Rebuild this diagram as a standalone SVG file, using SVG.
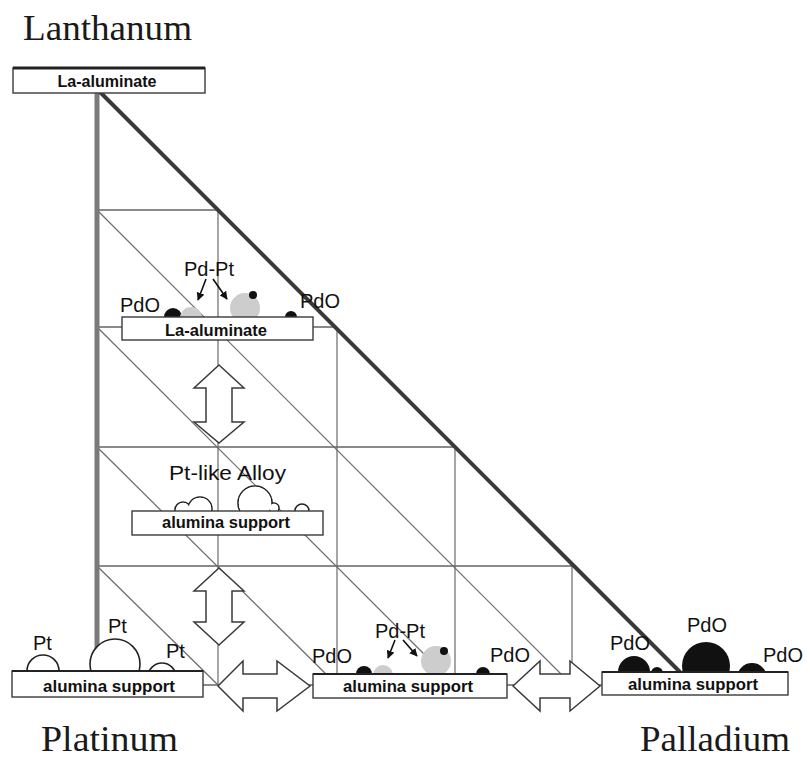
<svg xmlns="http://www.w3.org/2000/svg" width="807" height="760" viewBox="0 0 807 760">
  <defs>
    <style>
      .grid { stroke: #6a6a6a; stroke-width: 1.2; fill: none; }
      .hgrid { stroke: #8a8a8a; stroke-width: 2; fill: none; }
      .edge { stroke: #7a7a7a; stroke-width: 5; fill: none; }
      .hyp { stroke: #3a3a3a; stroke-width: 4; fill: none; }
      .box { fill: #fff; stroke: #3a3a3a; stroke-width: 1.4; }
      .boxlabel { font-family: "Liberation Sans", Arial, sans-serif; font-weight: bold; font-size: 16px; fill: #111; text-anchor: middle; }
      .lbl { font-family: "Liberation Sans", Arial, sans-serif; font-size: 20px; fill: #111; }
      .corner { font-family: "Liberation Serif", "Times New Roman", serif; font-size: 35px; fill: #1a1a1a; }
      .pt { fill: #fff; stroke: #222; stroke-width: 1.6; }
      .pdo { fill: #111; }
      .alloy { fill: #cdcdcd; }
      .block { fill: #fff; stroke: #3a3a3a; stroke-width: 1.5; stroke-linejoin: miter; }
      .ptr { stroke: #111; stroke-width: 1.6; fill: none; marker-end: url(#head); }
    </style>
    <marker id="head" viewBox="0 0 10 10" refX="9" refY="5" markerWidth="5" markerHeight="5" orient="auto">
      <path d="M0,0 L10,5 L0,10 z" fill="#111"/>
    </marker>
  </defs>

  <rect width="807" height="760" fill="#fff"/>

  <!-- ternary grid -->
  <g id="grid">
    <line class="hgrid" x1="97" y1="210" x2="218" y2="210"/>
    <line class="hgrid" x1="97" y1="327" x2="337" y2="327"/>
    <line class="hgrid" x1="97" y1="447" x2="455" y2="447"/>
    <line class="hgrid" x1="97" y1="566" x2="572" y2="566"/>
    <line class="hgrid" x1="97" y1="685" x2="690" y2="685"/>
    <line class="grid" x1="218" y1="210" x2="218" y2="685"/>
    <line class="grid" x1="337" y1="327" x2="337" y2="685"/>
    <line class="grid" x1="455" y1="447" x2="455" y2="685"/>
    <line class="grid" x1="572" y1="566" x2="572" y2="685"/>
    <line class="grid" x1="97" y1="210" x2="572" y2="685"/>
    <line class="grid" x1="97" y1="327" x2="455" y2="685"/>
    <line class="grid" x1="97" y1="447" x2="337" y2="685"/>
    <line class="grid" x1="97" y1="566" x2="218" y2="685"/>
    <line class="edge" x1="97" y1="90" x2="97" y2="685"/>
    <line class="hyp" x1="98" y1="90" x2="680" y2="672"/>
  </g>

  <!-- block arrows between states -->
  <g id="connectors">
    <polygon class="block" points="219,365 244,388 232,388 232,422 244,422 219,443 194,422 206,422 206,388 194,388"/>
    <polygon class="block" points="219,568 244,591 232,591 232,622 244,622 219,645 194,622 206,622 206,591 194,591"/>
    <polygon class="block" points="218,686 243,661 243,674 277,674 277,661 310,686 277,711 277,698 243,698 243,711"/>
    <polygon class="block" points="513,686 540,661 540,674 570,674 570,661 600,686 570,711 570,698 540,698 540,711"/>
  </g>

  <!-- Lanthanum corner -->
  <g id="node-la-corner">
    <rect class="box" x="13" y="68" width="192" height="25"/>
    <line x1="13" y1="68" x2="205" y2="68" stroke="#222" stroke-width="3"/>
    <text class="boxlabel" x="107" y="87" textLength="99" lengthAdjust="spacingAndGlyphs">La-aluminate</text>
  </g>

  <!-- Pd-Pt on La-aluminate -->
  <g id="node-la-pdpt">
    <circle class="pdo" cx="173" cy="317" r="9"/>
    <circle class="alloy" cx="191" cy="318" r="11"/>
    <circle class="alloy" cx="245" cy="308" r="15"/>
    <circle class="pdo" cx="253" cy="295" r="4"/>
    <circle class="pdo" cx="291" cy="317" r="6"/>
    <rect class="box" x="122" y="317" width="191" height="23"/>
    <text class="boxlabel" x="216" y="336" textLength="102" lengthAdjust="spacingAndGlyphs">La-aluminate</text>
    <text class="lbl" x="184" y="276">Pd-Pt</text>
    <line class="ptr" x1="206" y1="279" x2="198" y2="300"/>
    <line class="ptr" x1="213" y1="279" x2="227" y2="299"/>
    <text class="lbl" x="120" y="312">PdO</text>
    <text class="lbl" x="300" y="308">PdO</text>
  </g>

  <!-- Pt-like alloy on alumina -->
  <g id="node-alloy">
    <text class="lbl" x="169" y="480" textLength="117" lengthAdjust="spacingAndGlyphs">Pt-like Alloy</text>
    <g class="pt">
      <circle cx="183" cy="510" r="8"/>
      <circle cx="200" cy="509" r="12"/>
      <circle cx="255" cy="503" r="17"/>
      <circle cx="274" cy="508" r="5"/>
      <circle cx="302" cy="511" r="7"/>
    </g>
    <g fill="#fff">
      <circle cx="183" cy="510" r="7.2"/>
      <circle cx="200" cy="509" r="11.2"/>
      <circle cx="255" cy="503" r="16.2"/>
      <circle cx="274" cy="508" r="4.2"/>
    </g>
    <rect class="box" x="132" y="511" width="191" height="24"/>
    <text class="boxlabel" x="226" y="528" textLength="128" lengthAdjust="spacingAndGlyphs">alumina support</text>
  </g>

  <!-- Platinum corner -->
  <g id="node-platinum">
    <g class="pt">
      <circle cx="43" cy="671" r="16"/>
      <circle cx="115" cy="664" r="25"/>
      <circle cx="162" cy="677" r="14"/>
    </g>
    <rect class="box" x="12" y="671" width="191" height="26"/>
    <line x1="12" y1="671" x2="203" y2="671" stroke="#222" stroke-width="2"/>
    <text class="boxlabel" x="109" y="692" textLength="132" lengthAdjust="spacingAndGlyphs">alumina support</text>
    <text class="lbl" x="33" y="650">Pt</text>
    <text class="lbl" x="108" y="633">Pt</text>
    <text class="lbl" x="166" y="658">Pt</text>
  </g>

  <!-- Pd-Pt on alumina -->
  <g id="node-pdpt">
    <circle class="pdo" cx="364" cy="674" r="8"/>
    <circle class="alloy" cx="383" cy="675" r="10"/>
    <circle class="alloy" cx="436" cy="661" r="15"/>
    <circle class="pdo" cx="444" cy="651" r="4"/>
    <circle class="pdo" cx="483" cy="674" r="7"/>
    <rect class="box" x="313" y="674" width="194" height="24"/>
    <line x1="313" y1="674" x2="507" y2="674" stroke="#222" stroke-width="2"/>
    <text class="boxlabel" x="408" y="692" textLength="130" lengthAdjust="spacingAndGlyphs">alumina support</text>
    <text class="lbl" x="375" y="638">Pd-Pt</text>
    <line class="ptr" x1="395" y1="640" x2="388" y2="658"/>
    <line class="ptr" x1="403" y1="640" x2="417" y2="656"/>
    <text class="lbl" x="312" y="663">PdO</text>
    <text class="lbl" x="490" y="662">PdO</text>
  </g>

  <!-- Palladium corner -->
  <g id="node-palladium">
    <circle class="pdo" cx="634" cy="672" r="16"/>
    <circle class="pdo" cx="657" cy="673" r="6"/>
    <circle class="pdo" cx="706" cy="666" r="24"/>
    <circle class="pdo" cx="752" cy="678" r="15"/>
    <rect class="box" x="602" y="672" width="186" height="23"/>
    <line x1="602" y1="672" x2="788" y2="672" stroke="#222" stroke-width="2"/>
    <text class="boxlabel" x="693" y="690" textLength="130" lengthAdjust="spacingAndGlyphs">alumina support</text>
    <text class="lbl" x="610" y="650">PdO</text>
    <text class="lbl" x="687" y="632">PdO</text>
    <text class="lbl" x="763" y="662">PdO</text>
  </g>

  <!-- corner names -->
  <text class="corner" x="23" y="40" textLength="169" lengthAdjust="spacingAndGlyphs">Lanthanum</text>
  <text class="corner" x="41" y="751" textLength="137" lengthAdjust="spacingAndGlyphs">Platinum</text>
  <text class="corner" x="640" y="751" textLength="150" lengthAdjust="spacingAndGlyphs">Palladium</text>
</svg>
